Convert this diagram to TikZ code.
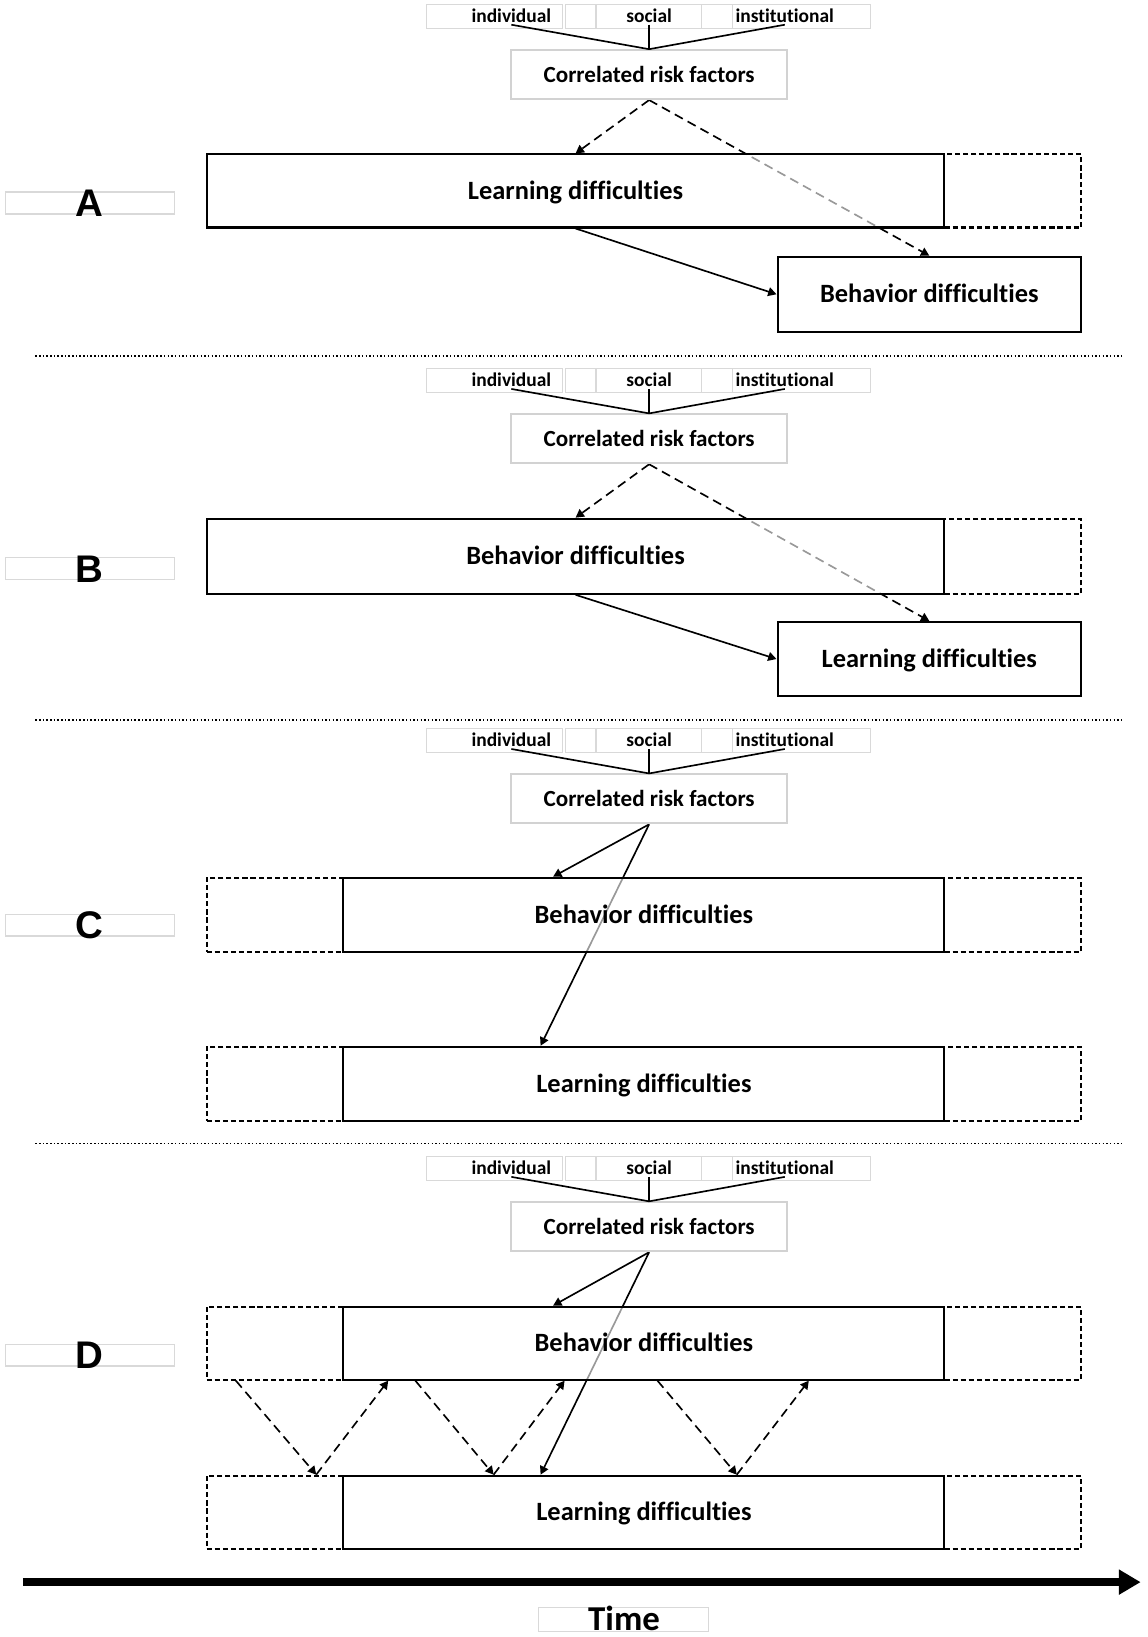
\documentclass[tikz,border=0pt]{standalone}
\usepackage{fontspec}
\setmainfont{Carlito}[Ligatures=NoCommon]
\newfontfamily\letterfont{Liberation Sans}
\usetikzlibrary{arrows.meta}
\pgfdeclarelayer{bg}
\pgfsetlayers{bg,main}
\tikzset{
  box/.style={draw, line width=1.1pt, fill=white, fill opacity=0.6, text opacity=1, inner sep=0pt,
    text height=10.8pt, text depth=1.4pt, font=\fontsize{14.4}{16}\selectfont\bfseries},
  extbox/.style={draw, line width=1.1pt, dash pattern=on 2.8pt off 1.6pt, inner sep=0pt},
  riskbox/.style={draw=gray!35, line width=1pt, fill=white, inner sep=0pt,
    minimum width=5.28cm, minimum height=0.94cm, font=\fontsize{12.6}{14}\selectfont\bfseries},
  tag/.style={inner sep=1pt, text height=7.5pt, text depth=0pt, font=\fontsize{10.6}{12}\selectfont\bfseries},
  tagline/.style={draw=gray!30, line width=0.7pt},
  letter/.style={inner sep=0pt, font=\letterfont\fontsize{21}{24}\selectfont\bfseries},
  link/.style={line width=0.9pt},
  dashlink/.style={line width=0.9pt, dash pattern=on 5pt off 3pt},
  tip/.style={-{Triangle[length=1.6mm,width=1.7mm]}},
  sep/.style={line width=0.7pt, dash pattern=on 0.8pt off 1.2pt},
}
\begin{document}
\begin{tikzpicture}[x=0.02cm, y=-0.02cm]
\useasboundingbox (0,0) rectangle (1100,1568.6);

% risk factor headers
\foreach \p/\oy in {A/0,B/349,C/694,D/1104}{
  \begin{scope}[shift={(0,\oy)}]
    \foreach \xa/\xb in {409/539,542/571,571/672,672/702,702/834}
      \draw[tagline] (\xa,4) rectangle (\xb,27);
    \node[tag] (ind\p) at (490,15) {individual};
    \node[tag] (soc\p) at (622,15) {social};
    \node[tag] (ins\p) at (752,15) {institutional};
    \node[riskbox] (crf\p) at (622,71.5) {Correlated risk factors};
    \draw[link] (ind\p.south) -- (crf\p.north);
    \draw[link] (soc\p.south) -- (crf\p.north);
    \draw[link] (ins\p.south) -- (crf\p.north);
  \end{scope}
}

% panel letters
\foreach \p/\ly in {A/195,B/545,C/887,D/1299}{
  \draw[tagline] (5,\ly-11) rectangle (167,\ly+10);
  \node[letter] (lab\p) at (86,\ly) {\p};
}

% separators
\draw[sep] (34,341) -- (1076,341);
\draw[sep] (34,690) -- (1076,690);
\draw[sep] (34,1096) -- (1076,1096);

% panel A
\node[extbox, minimum width=2.62cm, minimum height=1.4cm] (ldAr) at (970.5,183) {};
\node[box, minimum width=14.14cm, minimum height=1.4cm] (ldA) at (551.5,183) {Learning difficulties};
\node[box, minimum width=5.82cm, minimum height=1.44cm] (bdA) at (890.5,282) {Behavior difficulties};
\begin{pgfonlayer}{bg}
  \draw[dashlink, tip] (crfA.south) -- (ldA.north);
  \draw[dashlink, tip] (crfA.south) -- (bdA.north);
  \draw[link, tip] (ldA.south) -- (bdA.west);
\end{pgfonlayer}

% panel B
\node[extbox, minimum width=2.62cm, minimum height=1.44cm] (bdBr) at (970.5,533) {};
\node[box, minimum width=14.14cm, minimum height=1.44cm] (bdB) at (551.5,533) {Behavior difficulties};
\node[box, minimum width=5.82cm, minimum height=1.42cm] (ldB) at (890.5,631.5) {Learning difficulties};
\begin{pgfonlayer}{bg}
  \draw[dashlink, tip] (crfB.south) -- (bdB.north);
  \draw[dashlink, tip] (crfB.south) -- (ldB.north);
  \draw[link, tip] (bdB.south) -- (ldB.west);
\end{pgfonlayer}

% panel C
\node[extbox, minimum width=2.62cm, minimum height=1.42cm] (bdCl) at (263.5,876.5) {};
\node[extbox, minimum width=2.62cm, minimum height=1.42cm] (bdCr) at (970.5,876.5) {};
\node[box, minimum width=11.52cm, minimum height=1.42cm] (bdC) at (617,876.5) {Behavior difficulties};
\node[extbox, minimum width=2.62cm, minimum height=1.42cm] (ldCl) at (263.5,1038.5) {};
\node[extbox, minimum width=2.62cm, minimum height=1.42cm] (ldCr) at (970.5,1038.5) {};
\node[box, minimum width=11.52cm, minimum height=1.42cm] (ldC) at (617,1038.5) {Learning difficulties};
\begin{pgfonlayer}{bg}
  \draw[link, tip] (crfC.south) -- (bdC.north -| 530,0);
  \draw[link, tip] (crfC.south) -- (ldC.north -| 518,0);
\end{pgfonlayer}

% panel D
\node[extbox, minimum width=2.62cm, minimum height=1.4cm] (bdDl) at (263.5,1287) {};
\node[extbox, minimum width=2.62cm, minimum height=1.4cm] (bdDr) at (970.5,1287) {};
\node[box, minimum width=11.52cm, minimum height=1.4cm] (bdD) at (617,1287) {Behavior difficulties};
\node[extbox, minimum width=2.62cm, minimum height=1.4cm] (ldDl) at (263.5,1449) {};
\node[extbox, minimum width=2.62cm, minimum height=1.4cm] (ldDr) at (970.5,1449) {};
\node[box, minimum width=11.52cm, minimum height=1.4cm] (ldD) at (617,1449) {Learning difficulties};
\begin{pgfonlayer}{bg}
  \draw[link, tip] (crfD.south) -- (bdD.north -| 530,0);
  \draw[link, tip] (crfD.south) -- (ldD.north -| 518,0);
\end{pgfonlayer}
\foreach \xa/\xb/\xc in {226/303/372,398/473/541,630/706/775}{
  \draw[dashlink, tip] (bdD.south -| \xa,0) -- (ldD.north -| \xb,0);
  \draw[dashlink, tip] (ldD.north -| \xb,0) -- (bdD.south -| \xc,0);
}

% time axis
\coordinate (t0) at (22,1516);
\coordinate (t1) at (1093,1516);
\draw[line width=4.2pt, -{Triangle[length=4.2mm,width=4.6mm]}] (t0) -- (t1);
\draw[tagline] (516,1540) rectangle (679,1563);
\node[inner sep=0pt, font=\fontsize{19}{22}\selectfont\bfseries] (time) at (598,1551) {Time};
\end{tikzpicture}
\end{document}
